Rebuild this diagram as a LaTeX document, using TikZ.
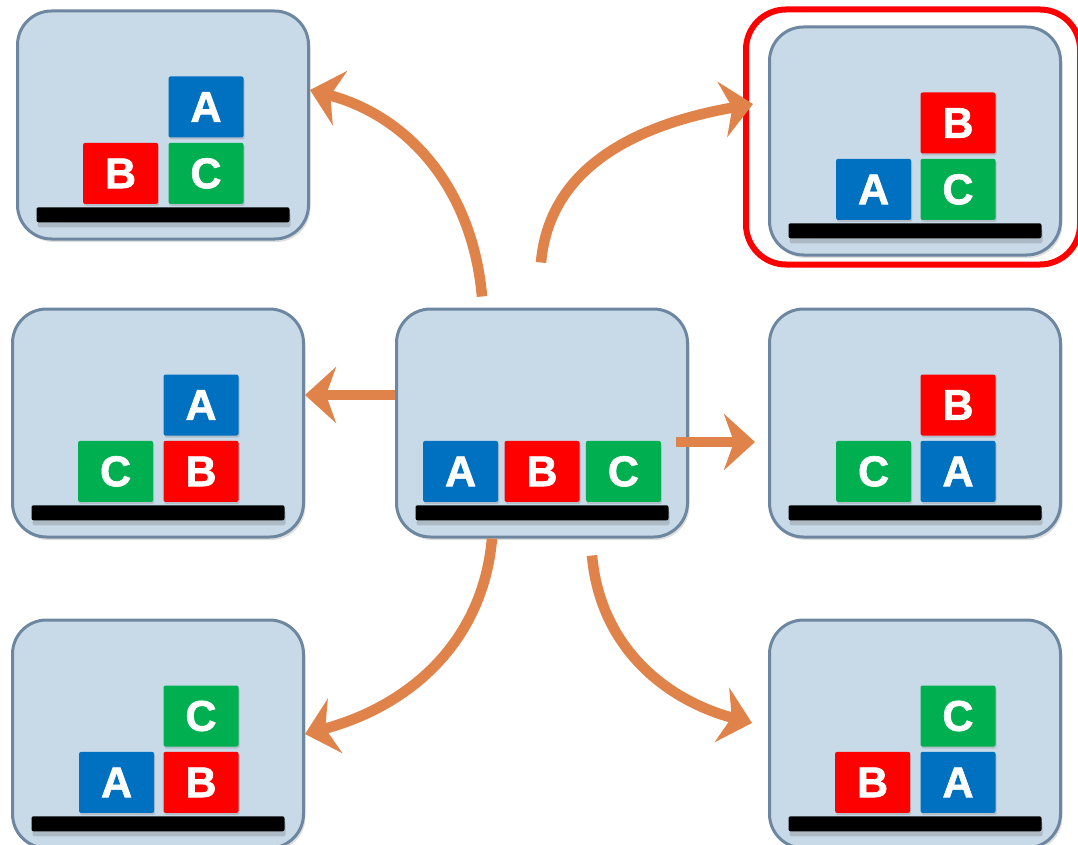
\documentclass[tikz,border=0pt]{standalone}
\usepackage{fontspec}
\newfontfamily\blockfont{Liberation Sans}[BoldFeatures={FakeBold=1.5}]
\usetikzlibrary{positioning, arrows.meta, shadows}

\definecolor{panelfill}{HTML}{C8DAE8}
\definecolor{panelline}{HTML}{6E87A0}
\definecolor{blkblue}{HTML}{0070C0}
\definecolor{blkred}{HTML}{FF0000}
\definecolor{blkgreen}{HTML}{00B050}
\definecolor{arroworange}{HTML}{E0834A}

\tikzstyle{panel} = [rectangle, rounded corners=34pt, minimum width=291pt, minimum height=228pt, draw=panelline, line width=3pt, fill=panelfill, drop shadow={shadow xshift=2pt, shadow yshift=-3pt, opacity=0.25}]
\tikzstyle{goal} = [rectangle, rounded corners=40pt, minimum width=334pt, minimum height=255pt, draw=red, line width=6pt]
\tikzstyle{shelf} = [rectangle, rounded corners=2pt, minimum width=253pt, minimum height=15pt, inner sep=0pt, fill=black, drop shadow={shadow xshift=1pt, shadow yshift=-5pt, opacity=0.35}]
\tikzstyle{block} = [rectangle, rounded corners=2pt, minimum width=75pt, minimum height=61pt, inner sep=0pt, text=white, font=\blockfont\bfseries\fontsize{43pt}{43pt}\selectfont, drop shadow={shadow xshift=1pt, shadow yshift=-2pt, opacity=0.3}]
\tikzstyle{blockA} = [block, fill=blkblue]
\tikzstyle{blockB} = [block, fill=blkred]
\tikzstyle{blockC} = [block, fill=blkgreen]
\tikzstyle{arrow} = [line width=10.5pt, draw=arroworange, -{Stealth[length=31pt, width=56pt, inset=10pt]}]

\begin{document}
\begin{tikzpicture}[x=1pt, y=-1pt]
		\useasboundingbox (0,0) rectangle (1078,845);
		\clip (0,0) rectangle (1078,845);

		% states
		\node (s0) [panel] at (542,423) {};
		\node (s1) [panel] at (163,125) {};
		\node (s2) [panel] at (915,141) {};
		\node (s3) [panel] at (158,423) {};
		\node (s4) [panel] at (915,423) {};
		\node (s5) [panel] at (158,734) {};
		\node (s6) [panel] at (915,734) {};
		\node (goal) [goal, xshift=-2pt, yshift=4pt] at (s2) {};

		\foreach \i in {0,...,6}
			\node (t\i) [shelf, above=18pt of s\i.south] {};

		% start: A B C on the table
		\node (b0) [blockB, above=3pt of t0] {B};
		\node (a0) [blockA, left=6pt of b0] {A};
		\node (c0) [blockC, right=6pt of b0] {C};

		\node (c1) [blockC, above=3pt of t1, xshift=43pt] {C};
		\node (a1) [blockA, above=5pt of c1] {A};
		\node (b1) [blockB, left=10pt of c1] {B};

		\node (c2) [blockC, above=3pt of t2, xshift=43pt] {C};
		\node (b2) [blockB, above=5pt of c2] {B};
		\node (a2) [blockA, left=9pt of c2] {A};

		\node (b3) [blockB, above=3pt of t3, xshift=43pt] {B};
		\node (a3) [blockA, above=5pt of b3] {A};
		\node (c3) [blockC, left=10pt of b3] {C};

		\node (a4) [blockA, above=3pt of t4, xshift=43pt] {A};
		\node (b4) [blockB, above=5pt of a4] {B};
		\node (c4) [blockC, left=9pt of a4] {C};

		\node (b5) [blockB, above=3pt of t5, xshift=43pt] {B};
		\node (c5) [blockC, above=5pt of b5] {C};
		\node (a5) [blockA, left=9pt of b5] {A};

		\node (a6) [blockA, above=3pt of t6, xshift=43pt] {A};
		\node (c6) [blockC, above=5pt of a6] {C};
		\node (b6) [blockB, left=10pt of a6] {B};

		% moves
		\draw [arrow] ([xshift=-60pt,yshift=11pt]s0.north) to[out=95, in=-15] ([yshift=35pt]s1.east);
		\draw [arrow] ([xshift=-1pt,yshift=45pt]s0.north) to[out=85, in=190] ([xshift=-15pt,yshift=37pt]s2.west);
		\draw [arrow] ([yshift=28pt]s0.west) -- ([yshift=28pt]s0.west -| s3.east);
		\draw [arrow] ([xshift=-13pt,yshift=-19pt]s0.east) -- ([xshift=-13pt,yshift=-19pt]s0.east -| s4.west);
		\draw [arrow] ([xshift=-50pt]s0.south) to[out=-95, in=15] (s5.east);
		\draw [arrow] ([xshift=50pt,yshift=-17pt]s0.south) to[out=-85, in=165] ([xshift=-16pt,yshift=11pt]s6.west);

\end{tikzpicture}
\end{document}
